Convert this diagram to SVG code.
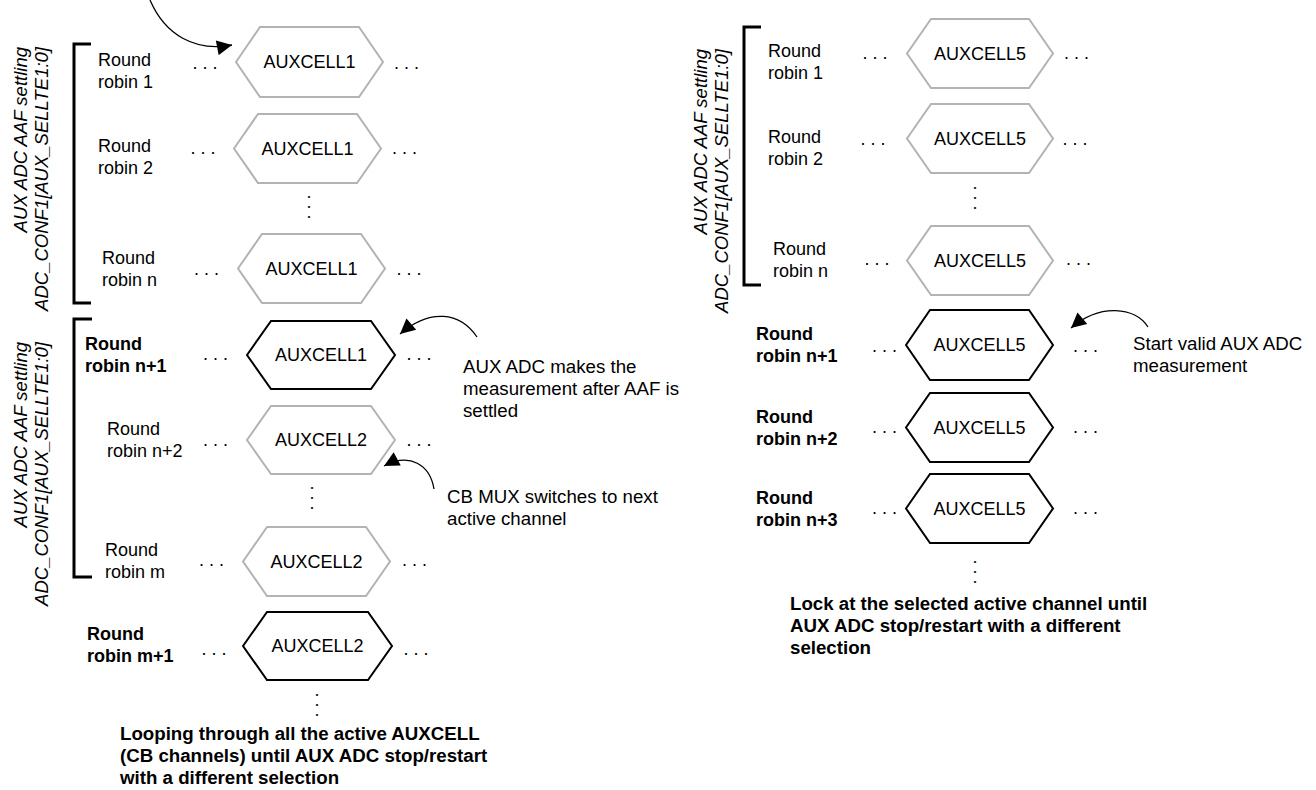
<svg xmlns="http://www.w3.org/2000/svg" width="1316" height="790" viewBox="0 0 1316 790">
<style>
text{font-family:"Liberation Sans",Arial,sans-serif;font-size:18px;fill:#000}
.b{font-weight:bold}
.it{font-style:italic;font-size:18.5px}
.nt{font-size:18.7px}
.mid{text-anchor:middle}
.end{text-anchor:end}
.hg{fill:#fff;stroke:#b3b3b3;stroke-width:2}
.hb{fill:#fff;stroke:#000;stroke-width:2}
.br{fill:none;stroke:#000;stroke-width:3}
.ar{fill:none;stroke:#000;stroke-width:1.3;marker-end:url(#ah)}
</style>
<defs>
<marker id="ah" viewBox="0 0 10 10" refX="10" refY="5" markerWidth="18" markerHeight="15" markerUnits="userSpaceOnUse" orient="auto">
<path d="M0,0 L10,5 L0,10 z" fill="#000"/>
</marker>
</defs>
<rect width="1316" height="790" fill="#fff"/>

<g id="brackets">
<path class="br" d="M91,44 H74 V303 H91"/>
<path class="br" d="M92,319 H74 V577 H92"/>
<path class="br" d="M761,27 H744 V285 H761"/>
<text class="it end" transform="translate(27,47) rotate(-90)">AUX ADC AAF settling</text>
<text class="it end" transform="translate(48,47) rotate(-90)">ADC_CONF1[AUX_SELLTE1:0]</text>
<text class="it end" transform="translate(27,342) rotate(-90)">AUX ADC AAF settling</text>
<text class="it end" transform="translate(48,342) rotate(-90)">ADC_CONF1[AUX_SELLTE1:0]</text>
<text class="it end" transform="translate(707,49) rotate(-90)">AUX ADC AAF settling</text>
<text class="it end" transform="translate(728,49) rotate(-90)">ADC_CONF1[AUX_SELLTE1:0]</text>
</g>

<g id="left-rr1">
<text x="98" y="66">Round</text><text x="98" y="88">robin 1</text>
<text class="mid" x="205" y="69">. . .</text>
<polygon class="hg" points="236,62 260,27 359,27 383,62 359,97 260,97"/>
<text class="mid" x="309.5" y="68">AUXCELL1</text>
<text class="mid" x="406.5" y="69">. . .</text>
</g>
<g id="left-rr2">
<text x="98" y="152">Round</text><text x="98" y="174">robin 2</text>
<text class="mid" x="203" y="154">. . .</text>
<polygon class="hg" points="234,148.5 258,114 357,114 381,148.5 357,183 258,183"/>
<text class="mid" x="307.5" y="155">AUXCELL1</text>
<text class="mid" x="404.5" y="154">. . .</text>
</g>
<g id="left-vdots1"><text class="mid" transform="translate(307.7,207) rotate(90)">. . .</text></g>
<g id="left-rrn">
<text x="102" y="264">Round</text><text x="102" y="286">robin n</text>
<text class="mid" x="206.5" y="275">. . .</text>
<polygon class="hg" points="238,268.5 262,234 361,234 385,268.5 361,303 262,303"/>
<text class="mid" x="311.5" y="275">AUXCELL1</text>
<text class="mid" x="409" y="275">. . .</text>
</g>
<g id="left-rrn1">
<text class="b" x="85" y="350">Round</text><text class="b" x="85" y="372">robin n+1</text>
<text class="mid" x="215.5" y="360">. . .</text>
<polygon class="hb" points="247,355 271,321 371,321 395,355 371,389 271,389"/>
<text class="mid" x="321" y="361">AUXCELL1</text>
<text class="mid" x="419" y="360">. . .</text>
</g>
<g id="left-rrn2">
<text x="107" y="435">Round</text><text x="107" y="457">robin n+2</text>
<text class="mid" x="215.5" y="446">. . .</text>
<polygon class="hg" points="247,440 271,406 371,406 395,440 371,474 271,474"/>
<text class="mid" x="321" y="446">AUXCELL2</text>
<text class="mid" x="419" y="446">. . .</text>
</g>
<g id="left-vdots2"><text class="mid" transform="translate(310.7,498) rotate(90)">. . .</text></g>
<g id="left-rrm">
<text x="105" y="556">Round</text><text x="105" y="578">robin m</text>
<text class="mid" x="211.5" y="566">. . .</text>
<polygon class="hg" points="243,561.5 267,527 366,527 390,561.5 366,596 267,596"/>
<text class="mid" x="316.5" y="568">AUXCELL2</text>
<text class="mid" x="414.5" y="566">. . .</text>
</g>
<g id="left-rrm1">
<text class="b" x="87" y="640">Round</text><text class="b" x="87" y="662">robin m+1</text>
<text class="mid" x="214" y="655">. . .</text>
<polygon class="hb" points="243,646 267,612 368,612 392,646 368,680 267,680"/>
<text class="mid" x="317.5" y="652">AUXCELL2</text>
<text class="mid" x="416" y="655">. . .</text>
</g>
<g id="left-vdots3"><text class="mid" transform="translate(315.7,705) rotate(90)">. . .</text></g>
<g id="left-note">
<text class="b nt" x="120" y="740">Looping through all the active AUXCELL</text>
<text class="b nt" x="120" y="762">(CB channels) until AUX ADC stop/restart</text>
<text class="b nt" x="120" y="784">with a different selection</text>
</g>
<g id="note-measure">
<text class="nt" x="463" y="373">AUX ADC makes the</text>
<text class="nt" x="463" y="395">measurement after AAF is</text>
<text class="nt" x="463" y="417">settled</text>
</g>
<g id="note-mux">
<text class="nt" x="447" y="503">CB MUX switches to next</text>
<text class="nt" x="447" y="525">active channel</text>
</g>

<g id="right-rr1">
<text x="768" y="57">Round</text><text x="768" y="79">robin 1</text>
<text class="mid" x="875" y="59">. . .</text>
<polygon class="hg" points="907,53.5 931,19 1029,19 1053,53.5 1029,88 931,88"/>
<text class="mid" x="980" y="60">AUXCELL5</text>
<text class="mid" x="1076.5" y="59">. . .</text>
</g>
<g id="right-rr2">
<text x="768" y="143">Round</text><text x="768" y="165">robin 2</text>
<text class="mid" x="873" y="145">. . .</text>
<polygon class="hg" points="907,138.5 931,104 1029,104 1053,138.5 1029,173 931,173"/>
<text class="mid" x="980" y="145">AUXCELL5</text>
<text class="mid" x="1075" y="145">. . .</text>
</g>
<g id="right-vdots1"><text class="mid" transform="translate(973.7,198) rotate(90)">. . .</text></g>
<g id="right-rrn">
<text x="773" y="255">Round</text><text x="773" y="277">robin n</text>
<text class="mid" x="877" y="265">. . .</text>
<polygon class="hg" points="907,260.5 931,226 1029,226 1053,260.5 1029,295 931,295"/>
<text class="mid" x="980" y="267">AUXCELL5</text>
<text class="mid" x="1078.5" y="265">. . .</text>
</g>
<g id="right-rrn1">
<text class="b" x="756" y="340">Round</text><text class="b" x="756" y="362">robin n+1</text>
<text class="mid" x="884.5" y="352">. . .</text>
<polygon class="hb" points="906,345 930,310 1029,310 1053,345 1029,380 930,380"/>
<text class="mid" x="979.5" y="351">AUXCELL5</text>
<text class="mid" x="1085.5" y="352">. . .</text>
</g>
<g id="right-rrn2">
<text class="b" x="756" y="423">Round</text><text class="b" x="756" y="445">robin n+2</text>
<text class="mid" x="884.5" y="433">. . .</text>
<polygon class="hb" points="906,427.5 930,393 1029,393 1053,427.5 1029,462 930,462"/>
<text class="mid" x="979.5" y="434">AUXCELL5</text>
<text class="mid" x="1085.5" y="433">. . .</text>
</g>
<g id="right-rrn3">
<text class="b" x="756" y="504">Round</text><text class="b" x="756" y="526">robin n+3</text>
<text class="mid" x="884.5" y="514">. . .</text>
<polygon class="hb" points="906,508.5 930,474 1029,474 1053,508.5 1029,543 930,543"/>
<text class="mid" x="979.5" y="515">AUXCELL5</text>
<text class="mid" x="1085.5" y="514">. . .</text>
</g>
<g id="right-vdots2"><text class="mid" transform="translate(973.7,572) rotate(90)">. . .</text></g>
<g id="right-note">
<text class="b nt" x="790" y="610">Lock at the selected active channel until</text>
<text class="b nt" x="790" y="632">AUX ADC stop/restart with a different</text>
<text class="b nt" x="790" y="654">selection</text>
</g>
<g id="note-start">
<text class="nt" x="1133" y="350">Start valid AUX ADC</text>
<text class="nt" x="1133" y="372">measurement</text>
</g>

<g id="connectors">
<path class="ar" d="M150,0 C165,35 195,52 232,45"/>
<path class="ar" d="M477,337 C460,312 430,308 400,334"/>
<path class="ar" d="M434,489 C430,465 410,452 384,466"/>
<path class="ar" d="M1148,327 C1135,307 1100,303 1071,328"/>
</g>
</svg>
